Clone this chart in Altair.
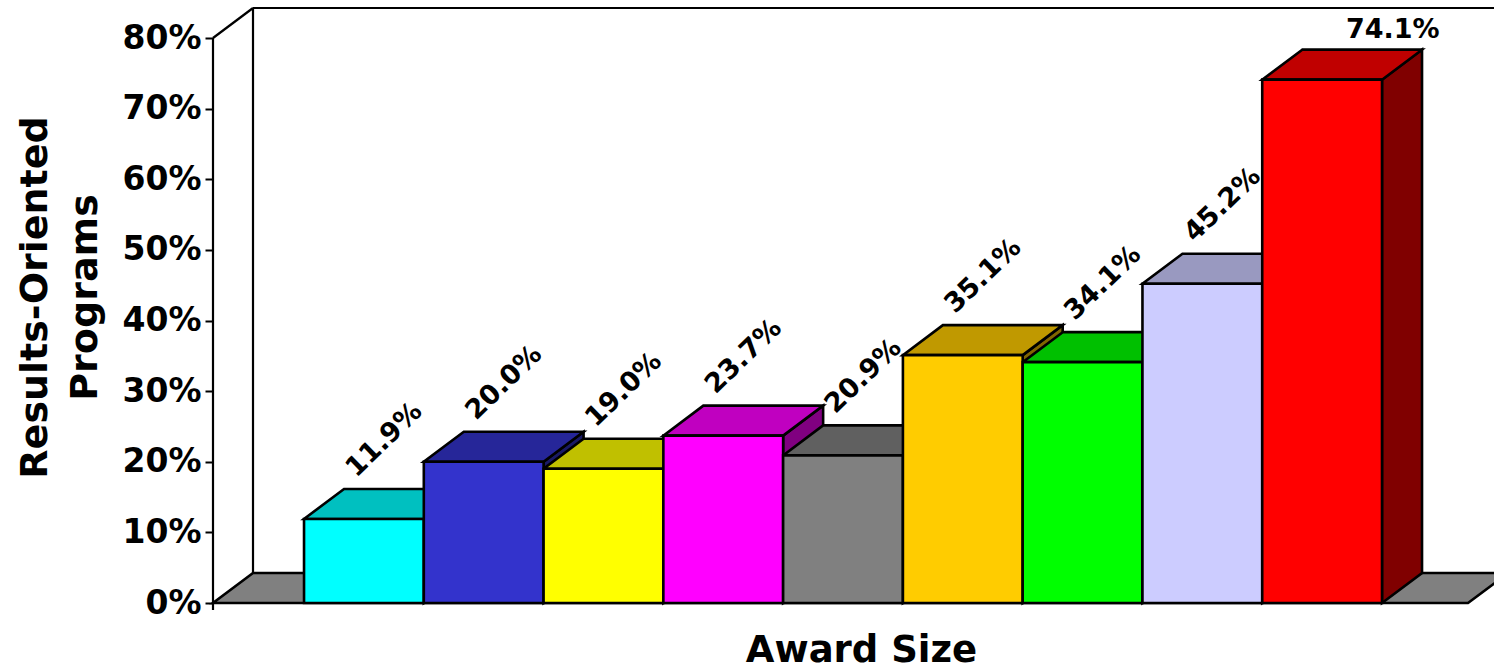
import altair as alt
import pandas as pd

# ---- data ----
CATEGORIES = ["A", "B", "C", "D", "E", "F", "G", "H", "I"]
VALUES = [11.9, 20.0, 19.0, 23.7, 20.9, 35.1, 34.1, 45.2, 74.1]
LABELS = ["11.9%", "20.0%", "19.0%", "23.7%", "20.9%", "35.1%", "34.1%", "45.2%", "74.1%"]
FRONT_COLORS = ["#00FFFF", "#3333CC", "#FFFF00", "#FF00FF", "#808080",
                "#FFCC00", "#00FF00", "#CCCCFF", "#FF0000"]
TOP_COLORS = ["#00C0C0", "#262699", "#C0C000", "#C000C0", "#606060",
              "#C09900", "#00C000", "#9999C0", "#C00000"]
SIDE_COLORS = ["#008080", "#1A1A66", "#808000", "#800080", "#404040",
               "#806600", "#008000", "#666680", "#800000"]
Y_TICKS = [0, 10, 20, 30, 40, 50, 60, 70, 80]
Y_TITLE = ["Results-Oriented", "Programs"]
X_TITLE = "Award Size"

# ---- 3-D geometry (in data units) ----
X_MIN, X_FLOOR_END, X_MAX = -0.76, 9.718, 9.935
Y_TOP = 80
DEPTH_X, DEPTH_Y = 0.334, 4.248
FONT = "DejaVu Sans"
W, H = 1281, 595
SW = 2.6

n = len(VALUES)
front_df = pd.DataFrame({
    "cat": CATEGORIES,
    "x": [i for i in range(n)],
    "x2": [i + 1 for i in range(n)],
    "y0": [0] * n,
    "v": VALUES,
    "c": FRONT_COLORS,
    "label": LABELS,
    "idx": list(range(n)),
})

top_rows, side_rows = [], []
for i, v in enumerate(VALUES):
    top_rows.append({"bar": i, "ty": v, "tx": i, "tx2": i + 1, "c": TOP_COLORS[i]})
    top_rows.append({"bar": i, "ty": v + DEPTH_Y, "tx": i + DEPTH_X, "tx2": i + 1 + DEPTH_X, "c": TOP_COLORS[i]})
    side_rows.append({"bar": i, "sx": i + 1, "sy": 0, "sy2": v, "c": SIDE_COLORS[i]})
    side_rows.append({"bar": i, "sx": i + 1 + DEPTH_X, "sy": DEPTH_Y, "sy2": v + DEPTH_Y, "c": SIDE_COLORS[i]})
top_df = pd.DataFrame(top_rows)
side_df = pd.DataFrame(side_rows)

floor_df = pd.DataFrame({
    "fy": [0, DEPTH_Y],
    "fx": [X_MIN, X_MIN + DEPTH_X],
    "fx2": [X_FLOOR_END, X_FLOOR_END + DEPTH_X],
})

wall_df = pd.DataFrame({
    "x": [X_MIN, X_MIN, X_MIN + DEPTH_X, X_MIN + DEPTH_X],
    "x2": [X_MIN, X_MIN + DEPTH_X, X_MIN + DEPTH_X, X_FLOOR_END + DEPTH_X],
    "y": [-1.0, Y_TOP, DEPTH_Y, Y_TOP + DEPTH_Y],
    "y2": [Y_TOP, Y_TOP + DEPTH_Y, Y_TOP + DEPTH_Y, Y_TOP + DEPTH_Y],
})

xs = alt.Scale(domain=[X_MIN, X_MAX], nice=False, zero=False)
ys = alt.Scale(domain=[0, Y_TOP + DEPTH_Y], nice=False, zero=False)

yaxis = alt.Axis(
    values=Y_TICKS, labelExpr="datum.value + '%'", grid=False, domain=False,
    ticks=True, tickSize=8, tickWidth=2, tickColor="black",
    labelFont=FONT, labelFontSize=33, labelFontWeight="bold", labelColor="black",
    labelPadding=4,
    title=Y_TITLE, titleFont=FONT, titleFontSize=38, titleFontWeight="bold",
    titleColor="black", titleAngle=270, titleAlign="center", titleBaseline="top",
    titleX=-197, titleY=289, titleLineHeight=50,
)
xaxis = alt.Axis(
    labels=False, ticks=False, domain=False, grid=False,
    title=X_TITLE, titleFont=FONT, titleFontSize=37, titleFontWeight="bold",
    titleColor="black", titleX=648, titleY=58, titleAlign="center",
    titleBaseline="alphabetic",
)

floor = alt.Chart(floor_df).mark_area(
    orient="horizontal", fill="#808080", stroke="black", strokeWidth=SW,
    opacity=1, fillOpacity=1,
).encode(
    y=alt.Y("fy:Q", scale=ys, axis=yaxis),
    x=alt.X("fx:Q", scale=xs, axis=xaxis, stack=None),
    x2="fx2:Q",
)

walls = alt.Chart(wall_df).mark_rule(color="black", strokeWidth=2.2).encode(
    x=alt.X("x:Q", scale=xs, axis=xaxis), x2="x2:Q",
    y=alt.Y("y:Q", scale=ys, axis=yaxis), y2="y2:Q",
)

sides = alt.Chart(side_df).mark_area(
    orient="vertical", stroke="black", strokeWidth=SW, opacity=1, fillOpacity=1,
).encode(
    x=alt.X("sx:Q", scale=xs, axis=xaxis),
    y=alt.Y("sy:Q", scale=ys, axis=yaxis, stack=None),
    y2="sy2:Q",
    detail="bar:O",
    fill=alt.Fill("c:N", scale=None),
)

tops = alt.Chart(top_df).mark_area(
    orient="horizontal", stroke="black", strokeWidth=SW, opacity=1, fillOpacity=1,
).encode(
    y=alt.Y("ty:Q", scale=ys, axis=yaxis),
    x=alt.X("tx:Q", scale=xs, axis=xaxis, stack=None),
    x2="tx2:Q",
    detail="bar:O",
    fill=alt.Fill("c:N", scale=None),
)

fronts = alt.Chart(front_df).mark_rect(stroke="black", strokeWidth=SW).encode(
    x=alt.X("x:Q", scale=xs, axis=xaxis), x2="x2:Q",
    y=alt.Y("y0:Q", scale=ys, axis=yaxis), y2="v:Q",
    fill=alt.Fill("c:N", scale=None),
)

labels_rot = alt.Chart(front_df).transform_filter("datum.idx < 8").transform_calculate(
    lx="datum.x + 0.5 + 0.17", ly="datum.v + 11.2"
).mark_text(
    angle=316, font=FONT, fontSize=27, fontWeight="bold", color="black",
    align="center", baseline="middle",
).encode(
    x=alt.X("lx:Q", scale=xs, axis=xaxis),
    y=alt.Y("ly:Q", scale=ys, axis=yaxis),
    text="label:N",
)

labels_flat = alt.Chart(front_df).transform_filter("datum.idx == 8").transform_calculate(
    lx="datum.x + 0.5 + 0.59", ly="datum.v + 7.1"
).mark_text(
    font=FONT, fontSize=27, fontWeight="bold", color="black",
    align="center", baseline="middle",
).encode(
    x=alt.X("lx:Q", scale=xs, axis=xaxis),
    y=alt.Y("ly:Q", scale=ys, axis=yaxis),
    text="label:N",
)

chart = alt.layer(floor, walls, sides, tops, fronts, labels_rot, labels_flat).properties(
    width=W, height=H,
    autosize=alt.AutoSizeParams(type="none"),
    padding={"left": 213, "top": 8, "right": 0, "bottom": 66},
    background="white",
).configure_view(stroke=None)

chart.save("out.html", embed_options={"renderer": "svg", "actions": False})
